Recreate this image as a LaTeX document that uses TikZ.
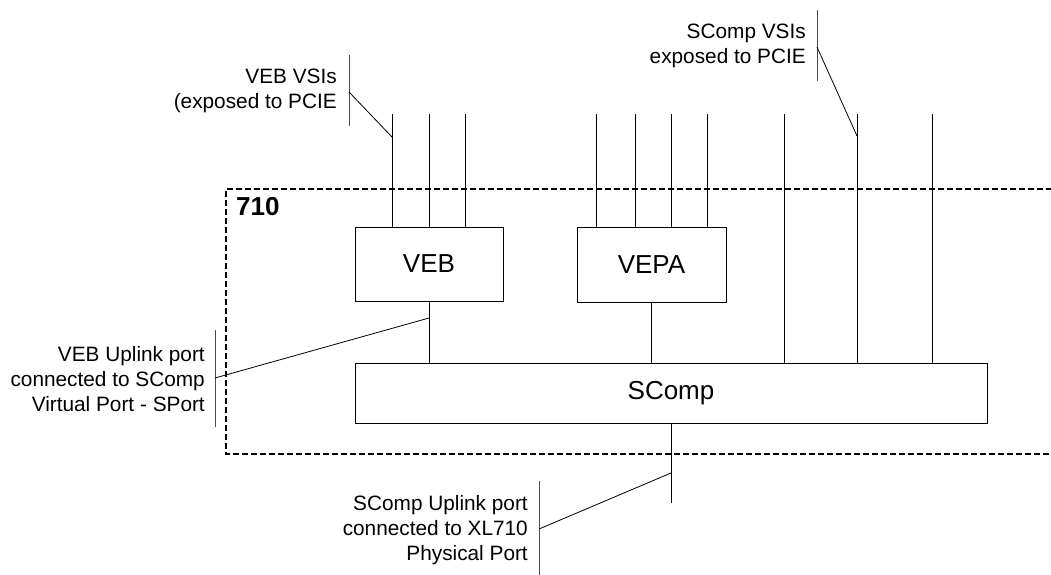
\documentclass[tikz,border=0pt]{standalone}
\usepackage{fontspec}
\setmainfont{Liberation Sans}
\begin{document}
\begin{tikzpicture}[x=1pt,y=-1pt,
  box/.style={draw, line width=0.9pt, inner sep=0pt, font=\fontsize{26}{30}\selectfont},
  wire/.style={line width=0.9pt},
  brk/.style={line width=0.9pt, draw=black!70},
  lead/.style={line width=0.8pt},
  call/.style={align=right, anchor=east, inner sep=0pt, font=\fontsize{20.8}{25}\selectfont},
  frame/.style={line width=1.2pt, dash pattern=on 6pt off 3pt}]
\useasboundingbox (0,0) rectangle (1051,574);
% chip frame (open to the right)
\draw[frame] (1070,189) -- (226,189) -- (226,454) -- (1070,454);
\node[font=\bfseries\fontsize{26}{30}\selectfont, anchor=west, inner sep=0pt] (chip) at (236,207) {710};
% boxes
\node[box, minimum width=148pt, minimum height=74pt] (veb) at (429,264) {VEB};
\node[box, minimum width=149pt, minimum height=75pt] (vepa) at (651.5,264.5) {VEPA};
\node[box, minimum width=632pt, minimum height=60pt] (scomp) at (671,393) {SComp};
% VEB VSIs
\foreach \i/\x in {1/392,2/429,3/465}{
  \coordinate (vb\i) at (\x,114);
  \draw[wire] (vb\i) -- (vb\i |- veb.north);
}
% VEPA VSIs
\foreach \i/\x in {1/596,2/635,3/671,4/707}{
  \coordinate (vp\i) at (\x,114);
  \draw[wire] (vp\i) -- (vp\i |- vepa.north);
}
% SComp VSIs
\foreach \i/\x in {1/784,2/857,3/932}{
  \coordinate (sv\i) at (\x,114);
  \draw[wire] (sv\i) -- (sv\i |- scomp.north);
}
% uplinks
\draw[wire] (veb.south) -- (veb.south |- scomp.north);
\draw[wire] (vepa.south) -- (vepa.south |- scomp.north);
\coordinate (up) at (671,503);
\draw[wire] (scomp.south) -- (up);
% callout: VEB VSIs
\node[call] (c1) at (337,91) {VEB VSIs\\(exposed to PCIE};
\coordinate (c1t) at (349,55);
\coordinate (c1b) at (349,126);
\coordinate (c1m) at (349,92);
\coordinate (c1e) at (392,137);
\draw[brk] (c1t) -- (c1b);
\draw[lead] (c1m) -- (c1e);
% callout: SComp VSIs
\node[call] (c2) at (806,46) {SComp VSIs\\exposed to PCIE};
\coordinate (c2t) at (817,10);
\coordinate (c2b) at (817,81);
\coordinate (c2m) at (817,47);
\coordinate (c2e) at (857,136);
\draw[brk] (c2t) -- (c2b);
\draw[lead] (c2m) -- (c2e);
% callout: VEB uplink
\node[call] (c3) at (205,379) {VEB Uplink port\\connected to SComp\\Virtual Port - SPort};
\coordinate (c3t) at (215,330);
\coordinate (c3b) at (215,427);
\coordinate (c3m) at (215,378);
\coordinate (c3e) at (429,318);
\draw[brk] (c3t) -- (c3b);
\draw[lead] (c3m) -- (c3e);
% callout: SComp uplink
\node[call] (c4) at (528,530) {SComp Uplink port\\connected to XL710\\Physical Port};
\coordinate (c4t) at (539,481);
\coordinate (c4b) at (539,576);
\coordinate (c4m) at (539,529);
\coordinate (c4e) at (671,473);
\draw[brk] (c4t) -- (c4b);
\draw[lead] (c4m) -- (c4e);
\end{tikzpicture}
\end{document}
